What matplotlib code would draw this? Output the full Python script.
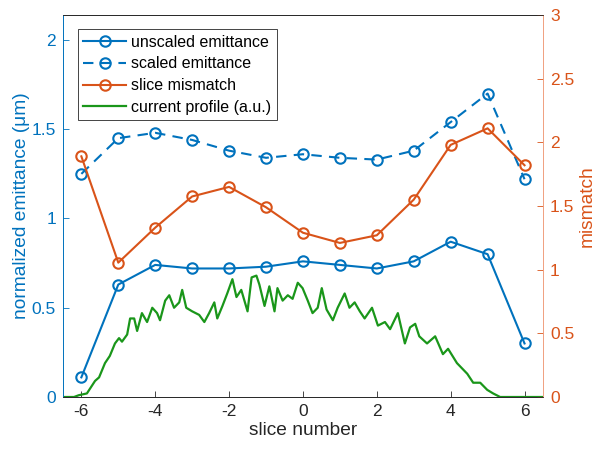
import numpy as np
import matplotlib
matplotlib.use('Agg')
import matplotlib.pyplot as plt

# slice data
slices = [-6, -5, -4, -3, -2, -1, 0, 1, 2, 3, 4, 5, 6]
emit_unscaled = [0.11, 0.63, 0.74, 0.72, 0.72, 0.73, 0.76, 0.74, 0.72, 0.76, 0.87, 0.80, 0.30]
emit_scaled = [1.25, 1.45, 1.48, 1.44, 1.38, 1.34, 1.36, 1.34, 1.33, 1.38, 1.54, 1.70, 1.22]
mismatch = [1.89, 1.055, 1.33, 1.575, 1.65, 1.49, 1.29, 1.21, 1.27, 1.55, 1.98, 2.11, 1.82]

# current profile (a.u.)
cur_x = [-6.53, -6.2, -6.07, -5.85, -5.63, -5.52, -5.44, -5.36, -5.23, -5.09, -4.98, -4.90,
         -4.76, -4.68, -4.57, -4.49, -4.36, -4.22, -4.08, -3.95, -3.87, -3.73, -3.62, -3.49,
         -3.35, -3.27, -3.16, -3.00, -2.81, -2.67, -2.54, -2.40, -2.32, -2.18, -2.05, -1.91,
         -1.80, -1.67, -1.50, -1.39, -1.26, -1.18, -1.04, -0.91, -0.77, -0.69, -0.55, -0.41,
         -0.28, -0.14, -0.01, 0.13, 0.26, 0.40, 0.51, 0.64, 0.81, 0.94, 1.13, 1.26, 1.40,
         1.54, 1.67, 1.87, 2.03, 2.22, 2.36, 2.57, 2.76, 2.90, 3.04, 3.15, 3.36, 3.58, 3.79,
         3.93, 4.17, 4.31, 4.45, 4.61, 4.80, 4.99, 5.15, 5.34, 6.53]
cur_y = [0.0, 0.0, 0.01, 0.02, 0.09, 0.11, 0.15, 0.19, 0.23, 0.30, 0.33, 0.31,
         0.35, 0.44, 0.44, 0.37, 0.47, 0.42, 0.50, 0.47, 0.43, 0.54, 0.57, 0.50,
         0.53, 0.60, 0.50, 0.48, 0.46, 0.42, 0.47, 0.53, 0.44, 0.51, 0.58, 0.66,
         0.56, 0.60, 0.48, 0.67, 0.68, 0.63, 0.51, 0.62, 0.48, 0.61, 0.54, 0.57,
         0.55, 0.64, 0.61, 0.54, 0.47, 0.50, 0.61, 0.49, 0.43, 0.50, 0.58, 0.50, 0.53,
         0.48, 0.44, 0.50, 0.40, 0.42, 0.38, 0.47, 0.30, 0.39, 0.41, 0.34, 0.30, 0.34, 0.24,
         0.27, 0.19, 0.16, 0.13, 0.08, 0.08, 0.04, 0.02, 0.0, 0.0]

blue = '#0072BD'
orange = '#D95319'
green = '#1a961a'
dark = '#262626'

plt.rcParams['font.family'] = ['Liberation Sans', 'DejaVu Sans']
plt.rcParams['axes.unicode_minus'] = False

fig = plt.figure(figsize=(5.99, 4.49), dpi=100)
ax1 = fig.add_axes([0.105, 0.1158, 0.8015, 0.8508])
ax2 = ax1.twinx()

mk = dict(ms=7.5, mfc='none', mew=1.5, lw=1.5)
l1, = ax1.plot(slices, emit_unscaled, '-o', color=blue, **mk)
l2, = ax1.plot(slices, emit_scaled, '--o', color=blue, dashes=(5, 3.5), **mk)
l4, = ax1.plot(cur_x, cur_y, '-', color=green, lw=1.6)
l3, = ax2.plot(slices, mismatch, '-o', color=orange, **mk)

ax1.set_xlim(-6.5, 6.5)
ax1.set_ylim(0, 2.14)
ax2.set_ylim(0, 3)
ax1.set_xticks([-6, -4, -2, 0, 2, 4, 6])
ax1.set_yticks([0, 0.5, 1, 1.5, 2])
ax1.set_yticklabels(['0', '0.5', '1', '1.5', '2'])
ax2.set_yticks([0, 0.5, 1, 1.5, 2, 2.5, 3])
ax2.set_yticklabels(['0', '0.5', '1', '1.5', '2', '2.5', '3'])

ax1.set_xlabel('slice number', fontsize=13.8, color=dark, labelpad=2)
ax1.set_ylabel('normalized emittance (\u03bcm)', fontsize=13.8, color=blue, labelpad=1)
ax2.set_ylabel('mismatch', fontsize=13.8, color=orange, labelpad=3)

ax1.tick_params(axis='x', direction='in', colors=dark, labelsize=12.5, length=4, width=0.6, pad=5)
ax1.tick_params(axis='y', direction='in', colors=blue, labelsize=12.5, length=4, width=0.6, pad=5)
ax2.tick_params(axis='y', direction='in', colors=orange, labelsize=12.5, length=4, width=0.6, pad=5)

for ax in (ax1, ax2):
    ax.spines['top'].set_color(dark)
    ax.spines['bottom'].set_color(dark)
    ax.spines['left'].set_color(blue)
    ax.spines['right'].set_color('#f0a080')
    for s in ax.spines.values():
        s.set_linewidth(0.6)

leg = ax2.legend([l1, l2, l3, l4],
                 ['unscaled emittance', 'scaled emittance', 'slice mismatch', 'current profile (a.u.)'],
                 loc='upper left', bbox_to_anchor=(0.031, 0.963), fontsize=11.5,
                 frameon=True, fancybox=False, edgecolor=dark, framealpha=1,
                 handlelength=2.7, handletextpad=0.3, borderpad=0.35, labelspacing=0.42,
                 borderaxespad=0)
leg.get_frame().set_linewidth(0.6)

fig.savefig('out.png', dpi=100)
